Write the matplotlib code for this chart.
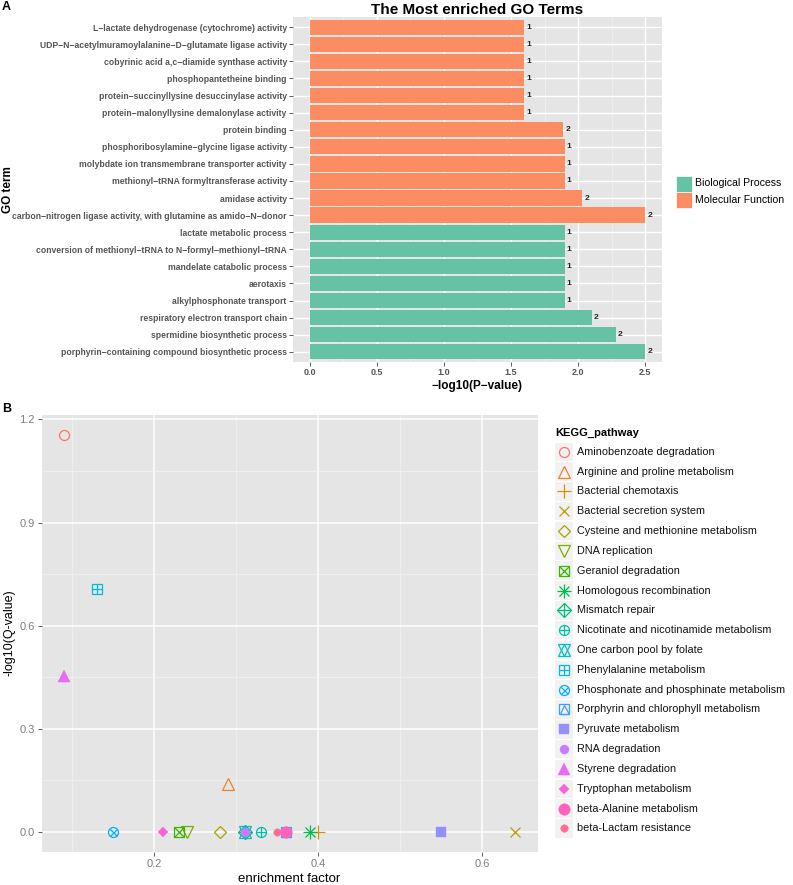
import matplotlib
matplotlib.use("Agg")
import matplotlib.pyplot as plt
from matplotlib.patches import Rectangle

plt.rcParams["font.family"] = ["Liberation Sans", "DejaVu Sans"]

# ---- panel A data (top to bottom as shown) ----
go_terms = [
    "L−lactate dehydrogenase (cytochrome) activity",
    "UDP−N−acetylmuramoylalanine−D−glutamate ligase activity",
    "cobyrinic acid a,c−diamide synthase activity",
    "phosphopantetheine binding",
    "protein−succinyllysine desuccinylase activity",
    "protein−malonyllysine demalonylase activity",
    "protein binding",
    "phosphoribosylamine−glycine ligase activity",
    "molybdate ion transmembrane transporter activity",
    "methionyl−tRNA formyltransferase activity",
    "amidase activity",
    "carbon−nitrogen ligase activity, with glutamine as amido−N−donor",
    "lactate metabolic process",
    "conversion of methionyl−tRNA to N−formyl−methionyl−tRNA",
    "mandelate catabolic process",
    "aerotaxis",
    "alkylphosphonate transport",
    "respiratory electron transport chain",
    "spermidine biosynthetic process",
    "porphyrin−containing compound biosynthetic process",
]
go_logp = [1.6, 1.6, 1.6, 1.6, 1.6, 1.6, 1.89, 1.9, 1.9, 1.9, 2.03, 2.5,
           1.9, 1.9, 1.9, 1.9, 1.9, 2.1, 2.28, 2.5]
go_count = [1, 1, 1, 1, 1, 1, 2, 1, 1, 1, 2, 2, 1, 1, 1, 1, 1, 2, 2, 2]
go_class = ["MF"] * 12 + ["BP"] * 8
class_names = {"BP": "Biological Process", "MF": "Molecular Function"}
class_colors = {"BP": "#66C2A5", "MF": "#FC8D62"}

# ---- panel B data ----
pathways = [
    "Aminobenzoate degradation", "Arginine and proline metabolism",
    "Bacterial chemotaxis", "Bacterial secretion system",
    "Cysteine and methionine metabolism", "DNA replication",
    "Geraniol degradation", "Homologous recombination", "Mismatch repair",
    "Nicotinate and nicotinamide metabolism", "One carbon pool by folate",
    "Phenylalanine metabolism", "Phosphonate and phosphinate metabolism",
    "Porphyrin and chlorophyll metabolism", "Pyruvate metabolism",
    "RNA degradation", "Styrene degradation", "Tryptophan metabolism",
    "beta-Alanine metabolism", "beta-Lactam resistance",
]
enrich = [0.09, 0.29, 0.40, 0.64, 0.28, 0.24, 0.23, 0.39, 0.31, 0.33,
          0.31, 0.13, 0.15, 0.36, 0.55, 0.31, 0.09, 0.21, 0.36, 0.35]
logq = [1.155, 0.14, 0, 0, 0, 0, 0, 0, 0, 0,
        0, 0.707, 0, 0, 0, 0, 0.454, 0, 0, 0]

hue20 = ["#F8766D", "#EA8331", "#D89000", "#C09B00", "#A3A500", "#7CAE00",
         "#39B600", "#00BB4E", "#00BF7D", "#00C1A3", "#00BFC4", "#00BAE0",
         "#00B0F6", "#35A2FF", "#9590FF", "#C77CFF", "#E76BF3", "#FA62DB",
         "#FF62BC", "#FF6C91"]

# ggplot shapes 1..20 as stacks of matplotlib markers: (marker, fill, scale)
SHAPES = [
    [("o", False, 1.0)],
    [("^", False, 1.15)],
    [("+", None, 1.3)],
    [("x", None, 1.0)],
    [("D", False, 0.9)],
    [("v", False, 1.15)],
    [("s", False, 0.95), ("x", None, 0.95)],
    [("+", None, 1.3), ("x", None, 0.95)],
    [("D", False, 0.95), ("+", None, 1.3)],
    [("o", False, 1.0), ("+", None, 1.0)],
    [("^", False, 1.15), ("v", False, 1.15)],
    [("s", False, 0.95), ("+", None, 0.95)],
    [("o", False, 1.0), ("x", None, 0.7)],
    [("s", False, 0.95), ("^", False, 0.9)],
    [("s", True, 0.95)],
    [("o", True, 0.9)],
    [("^", True, 1.15)],
    [("D", True, 0.65)],
    [("o", True, 1.15)],
    [("o", True, 0.75)],
]
BASE_MS = 7.2


def draw_shape(ax, x, y, idx, color, zorder=3):
    for m, fill, sc in SHAPES[idx]:
        if fill is True:
            ax.plot(x, y, ls="none", marker=m, ms=BASE_MS * sc, mfc=color,
                    mec=color, mew=0.3, zorder=zorder)
        elif fill is False:
            ax.plot(x, y, ls="none", marker=m, ms=BASE_MS * sc, mfc="none",
                    mec=color, mew=0.9, zorder=zorder)
        else:
            ax.plot(x, y, ls="none", marker=m, ms=BASE_MS * sc, color=color,
                    mew=0.9, zorder=zorder)


W, H = 793, 885
fig = plt.figure(figsize=(W / 100, H / 100), dpi=100)

# ---------------- panel A ----------------
axA = fig.add_axes([293 / W, 1 - 362 / H, 369 / W, 345 / H])
axA.set_facecolor("#E5E5E5")
n = len(go_terms)
ypos = [n - 1 - i for i in range(n)]
axA.barh(ypos, go_logp, height=0.9, color=[class_colors[c] for c in go_class],
         zorder=2)
for y, v, c in zip(ypos, go_logp, go_count):
    axA.text(v + 0.015, y, str(c), va="center", ha="left", fontsize=6,
             fontweight="bold", color="#222222", zorder=3)
axA.set_xlim(-0.125, 2.625)
axA.set_ylim(-0.6, n - 0.4)
axA.set_yticks(ypos)
axA.set_yticklabels(go_terms, fontsize=6.2, fontweight="bold", color="#555555")
axA.set_xticks([0, 0.5, 1.0, 1.5, 2.0, 2.5])
axA.set_xticklabels(["0.0", "0.5", "1.0", "1.5", "2.0", "2.5"], fontsize=6.5,
                    fontweight="bold", color="#555555")
axA.set_xticks([0.25, 0.75, 1.25, 1.75, 2.25], minor=True)
axA.tick_params(which="major", length=3, width=0.6, color="#444444", pad=1.5)
axA.tick_params(which="minor", length=0)
axA.grid(which="major", color="white", lw=1.0)
axA.grid(which="minor", axis="x", color="#F2F2F2", lw=0.5)
axA.set_axisbelow(True)
for s in axA.spines.values():
    s.set_visible(False)
axA.set_title("The Most enriched GO Terms", fontsize=11, fontweight="bold",
              pad=2)
axA.set_xlabel("−log10(P−value)", fontsize=8.5, fontweight="bold", labelpad=2)

# ---------------- panel B ----------------
axB = fig.add_axes([41.7 / W, 1 - 852 / H, 495.8 / W, 437 / H])
axB.set_facecolor("#E5E5E5")
for i, (x, y) in enumerate(zip(enrich, logq)):
    draw_shape(axB, x, y, i, hue20[i])
axB.set_xlim(0.0625, 0.6675)
axB.set_ylim(-0.058, 1.213)
axB.set_xticks([0.2, 0.4, 0.6])
axB.set_xticks([0.1, 0.3, 0.5], minor=True)
axB.set_yticks([0, 0.3, 0.6, 0.9, 1.2])
axB.set_yticklabels(["0.0", "0.3", "0.6", "0.9", "1.2"])
axB.set_yticks([0.15, 0.45, 0.75, 1.05], minor=True)
axB.tick_params(which="major", length=3, width=0.6, color="#444444",
                labelsize=8, labelcolor="#7F7F7F", pad=2)
axB.tick_params(which="minor", length=0)
axB.grid(which="major", color="white", lw=1.1)
axB.grid(which="minor", color="#F2F2F2", lw=0.5)
axB.set_axisbelow(True)
for s in axB.spines.values():
    s.set_visible(False)
axB.set_xlabel("enrichment factor", fontsize=9.5, labelpad=3)

# ---------------- overlay: panel letters, y labels and legends ----------------
ov = fig.add_axes([0, 0, 1, 1], zorder=10)
ov.set_xlim(0, W)
ov.set_ylim(H, 0)
ov.axis("off")
ov.text(2, 7, "A", fontsize=9, fontweight="bold", va="center")
ov.text(2, 409, "B", fontsize=9, fontweight="bold", va="center")
ov.text(8, 189.5, "GO term", fontsize=8.5, fontweight="bold", rotation=90,
        ha="center", va="center")
ov.text(10, 633, "-log10(Q-value)", fontsize=9, rotation=90,
        ha="center", va="center")

# legend A
for k, cls in enumerate(["BP", "MF"]):
    yc = 183.5 + k * 16.5
    ov.add_patch(Rectangle((676, yc - 8), 16, 16, facecolor=class_colors[cls],
                           edgecolor="white", lw=0.5))
    ov.text(695, yc, class_names[cls], fontsize=7.6, va="center", ha="left")

# legend B
ov.text(555, 433, "KEGG_pathway", fontsize=8, fontweight="bold", va="center")
for i, name in enumerate(pathways):
    yc = 451.7 + i * 19.83
    ov.add_patch(Rectangle((555, yc - 9.2), 18, 18.4, facecolor="#F2F2F2",
                           edgecolor="none"))
    draw_shape(ov, 564, yc, i, hue20[i], zorder=11)
    ov.text(577, yc, name, fontsize=7.85, va="center", ha="left",
            color="#111111")

fig.savefig("out.png", dpi=100)
